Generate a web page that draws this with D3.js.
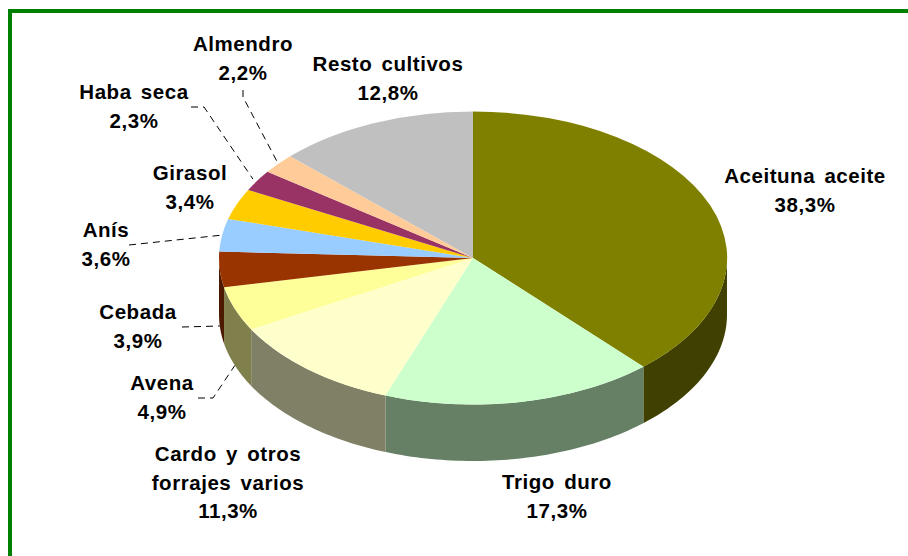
<!DOCTYPE html>
<html>
<head>
<meta charset="utf-8">
<script src="https://cdn.jsdelivr.net/npm/d3@7"></script>
<style>
  html, body { margin: 0; padding: 0; background: #fff; overflow: hidden; }
  svg { display: block; }
  text { font-family: "Liberation Sans", Arial, sans-serif; font-weight: bold; fill: #000; }
</style>
</head>
<body>
<script>
"use strict";

const crops = ["Aceituna aceite", "Trigo duro", "Cardo y otros|forrajes varios", "Avena", "Cebada", "Anís", "Girasol", "Haba seca", "Almendro", "Resto cultivos"];
const shares = [38.3, 17.3, 11.3, 4.9, 3.9, 3.6, 3.4, 2.3, 2.2, 12.8];
const topColors = ["#808000", "#ccffcc", "#ffffcc", "#ffff99", "#993300", "#99ccff", "#ffcc00", "#993366", "#ffcc99", "#c0c0c0"];
const sideColors = ["#404000", "#668066", "#808066", "#80804d", "#4d1a00", "#4d6680", "#806600", "#4d1a33", "#80664d", "#606060"];

const width = 908;
const height = 556;
const cx = 473;
const cy = 258;
const rx = 254;
const ry = 146.5;
const depth = 56.5;

// label centre x / first baseline y
const labelPos = [
  [805, 183], [557, 489], [228, 461], [162, 390], [138, 319],
  [106, 237], [190, 180], [134, 99], [243, 51], [388, 71]
];

// leader lines: elbow point(s) then the end on the pie. onWall = end at the bottom of the side
const leaders = [
  { i: 3, from: [198, 398], elbow: [213, 398], onWall: true },
  { i: 4, from: [182, 327], onWall: true },
  { i: 5, from: [129, 245] },
  { i: 7, from: [191, 107], elbow: [204, 107], k: 1.02 },
  { i: 8, from: [243, 90], elbow: [243, 97] }
];

const svg = d3.select("body").append("svg")
  .attr("width", width)
  .attr("height", height);

// frame runs off the right and bottom of the picture
svg.append("rect")
  .attr("x", 10)
  .attr("y", 11)
  .attr("width", width + 20)
  .attr("height", height + 20)
  .attr("fill", "#fff")
  .attr("stroke", "#008000")
  .attr("stroke-width", 4);

const pie = d3.pie().sort(null).value((d) => d)
  .startAngle(0).endAngle(2 * Math.PI);
const slices = pie(shares);

const px = (a, k = 1) => cx + rx * k * Math.sin(a);
const py = (a, k = 1) => cy - ry * k * Math.cos(a);

// side wall of a slice, only the front half of the ellipse shows
function sidePath(s) {
  const a0 = Math.max(s.startAngle, Math.PI / 2);
  const a1 = Math.min(s.endAngle, 3 * Math.PI / 2);
  if (a0 >= a1) return null;
  const p = d3.path();
  const steps = d3.range(a0, a1, 0.02).concat([a1]);
  steps.forEach((a, n) => {
    if (n === 0) p.moveTo(px(a), py(a));
    else p.lineTo(px(a), py(a));
  });
  steps.slice().reverse().forEach((a) => p.lineTo(px(a), py(a) + depth));
  p.closePath();
  return p.toString();
}

svg.append("g")
  .selectAll("path")
  .data(slices.filter((s) => sidePath(s) !== null))
  .join("path")
  .attr("d", sidePath)
  .attr("fill", (d) => sideColors[d.index]);

// top face: unit arc squashed into the ellipse
const arc = d3.arc().innerRadius(0).outerRadius(1);
svg.append("g")
  .attr("transform", `translate(${cx},${cy}) scale(${rx},${ry})`)
  .selectAll("path")
  .data(slices)
  .join("path")
  .attr("d", arc)
  .attr("fill", (d) => topColors[d.index]);

const lineGen = d3.line();
svg.append("g")
  .selectAll("path")
  .data(leaders)
  .join("path")
  .attr("fill", "none")
  .attr("stroke", "#000")
  .attr("stroke-width", 1)
  .attr("stroke-dasharray", "7 5")
  .attr("d", (d) => {
    const s = slices[d.i];
    const mid = (s.startAngle + s.endAngle) / 2;
    const k = d.k || 1;
    const end = [px(mid, k), py(mid, k) + (d.onWall ? depth : 0)];
    const pts = d.elbow ? [d.from, d.elbow, end] : [d.from, end];
    return lineGen(pts);
  });

const label = svg.append("g")
  .selectAll("text")
  .data(crops)
  .join("text")
  .attr("text-anchor", "middle")
  .attr("font-size", 20.5)
  .attr("letter-spacing", 0.55)
  .attr("word-spacing", 3);

label.each(function (d, i) {
  const lines = d.split("|").concat([String(shares[i]).replace(".", ",") + "%"]);
  d3.select(this).selectAll("tspan")
    .data(lines)
    .join("tspan")
    .attr("x", labelPos[i][0])
    .attr("y", (_, n) => labelPos[i][1] + n * 28.5)
    .text((t) => t);
});
</script>
</body>
</html>
